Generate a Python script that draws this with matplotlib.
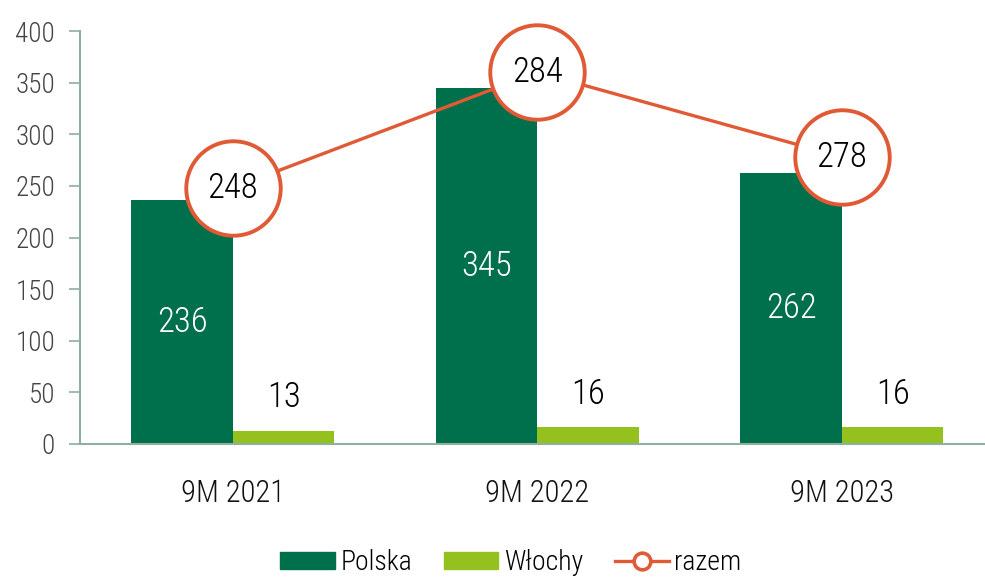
import matplotlib
matplotlib.use("Agg")
import matplotlib.pyplot as plt
import numpy as np
from matplotlib.lines import Line2D
from matplotlib.patches import Patch

categories = ["9M 2021", "9M 2022", "9M 2023"]
polska = [236, 345, 262]
wlochy = [13, 16, 16]
razem = [248, 284, 278]
yticks = [0, 50, 100, 150, 200, 250, 300, 350, 400]

DARK = "#006F4B"
LIGHT = "#95C11F"
ORANGE = "#E05A35"
AXC = "#8FAF9F"
plt.rcParams["font.family"] = ["Roboto Condensed", "DejaVu Sans"]
plt.rcParams["font.weight"] = "light"

fig = plt.figure(figsize=(9.85, 5.79), dpi=100)
ax = fig.add_axes([80/985, 1-444/579, 905/985, 413/579])

x = np.arange(len(categories))
w = 0.333
ax.bar(x - w/2, polska, w, color=DARK, label="Polska", zorder=2)
ax.bar(x + w/2, wlochy, w, color=LIGHT, label="Włochy", zorder=2)

LBL = 25
for xi, v in zip(x, polska):
    ax.text(xi - w/2, v/2, str(v), color="white", ha="center", va="center", fontsize=LBL, zorder=3)
for xi, v in zip(x, wlochy):
    ax.annotate(str(v), (xi + w/2, v), xytext=(0, 24), textcoords="offset points",
                ha="center", va="center", fontsize=LBL, color="black", zorder=3)

# label position: at the total, or above the Polish bar if the bar is taller
pos = [r if r > p else p + 15 for r, p in zip(razem, polska)]
ax.plot(x, pos, color=ORANGE, lw=2.4, marker="o", markersize=68, clip_on=False,
        markerfacecolor="white", markeredgecolor=ORANGE, markeredgewidth=2.8, zorder=4)
for xi, yv, r in zip(x, pos, razem):
    ax.text(xi, yv, str(r), ha="center", va="center", fontsize=LBL, color="black", zorder=5)

ax.set_xlim(-0.502, 2.47)
ax.set_ylim(0, 400)
ax.set_yticks(yticks)
ax.set_yticklabels([str(t) for t in yticks], fontsize=19.5, color="#444444")
ax.set_xticks(x)
ax.set_xticklabels(categories, fontsize=22, color="#111111")
ax.tick_params(axis="y", length=8, width=1.2, color=AXC, pad=10)
ax.tick_params(axis="x", length=0, pad=25)
for s in ["top", "right"]:
    ax.spines[s].set_visible(False)
for s in ["left", "bottom"]:
    ax.spines[s].set_color(AXC)
    ax.spines[s].set_linewidth(1.5)

handles = [Patch(color=DARK, label="Polska"), Patch(color=LIGHT, label="Włochy"),
           Line2D([0], [0], color=ORANGE, lw=2.4, marker="o", markersize=12,
                  markerfacecolor="white", markeredgecolor=ORANGE, markeredgewidth=2.6, label="razem")]
fig.legend(handles=handles, loc="center", bbox_to_anchor=(511/985, 1-563/579), ncol=3,
           frameon=False, fontsize=20, handlelength=1.95, handleheight=0.55, columnspacing=1.15,
           handletextpad=0.2)

fig.savefig("out.png", dpi=100)
